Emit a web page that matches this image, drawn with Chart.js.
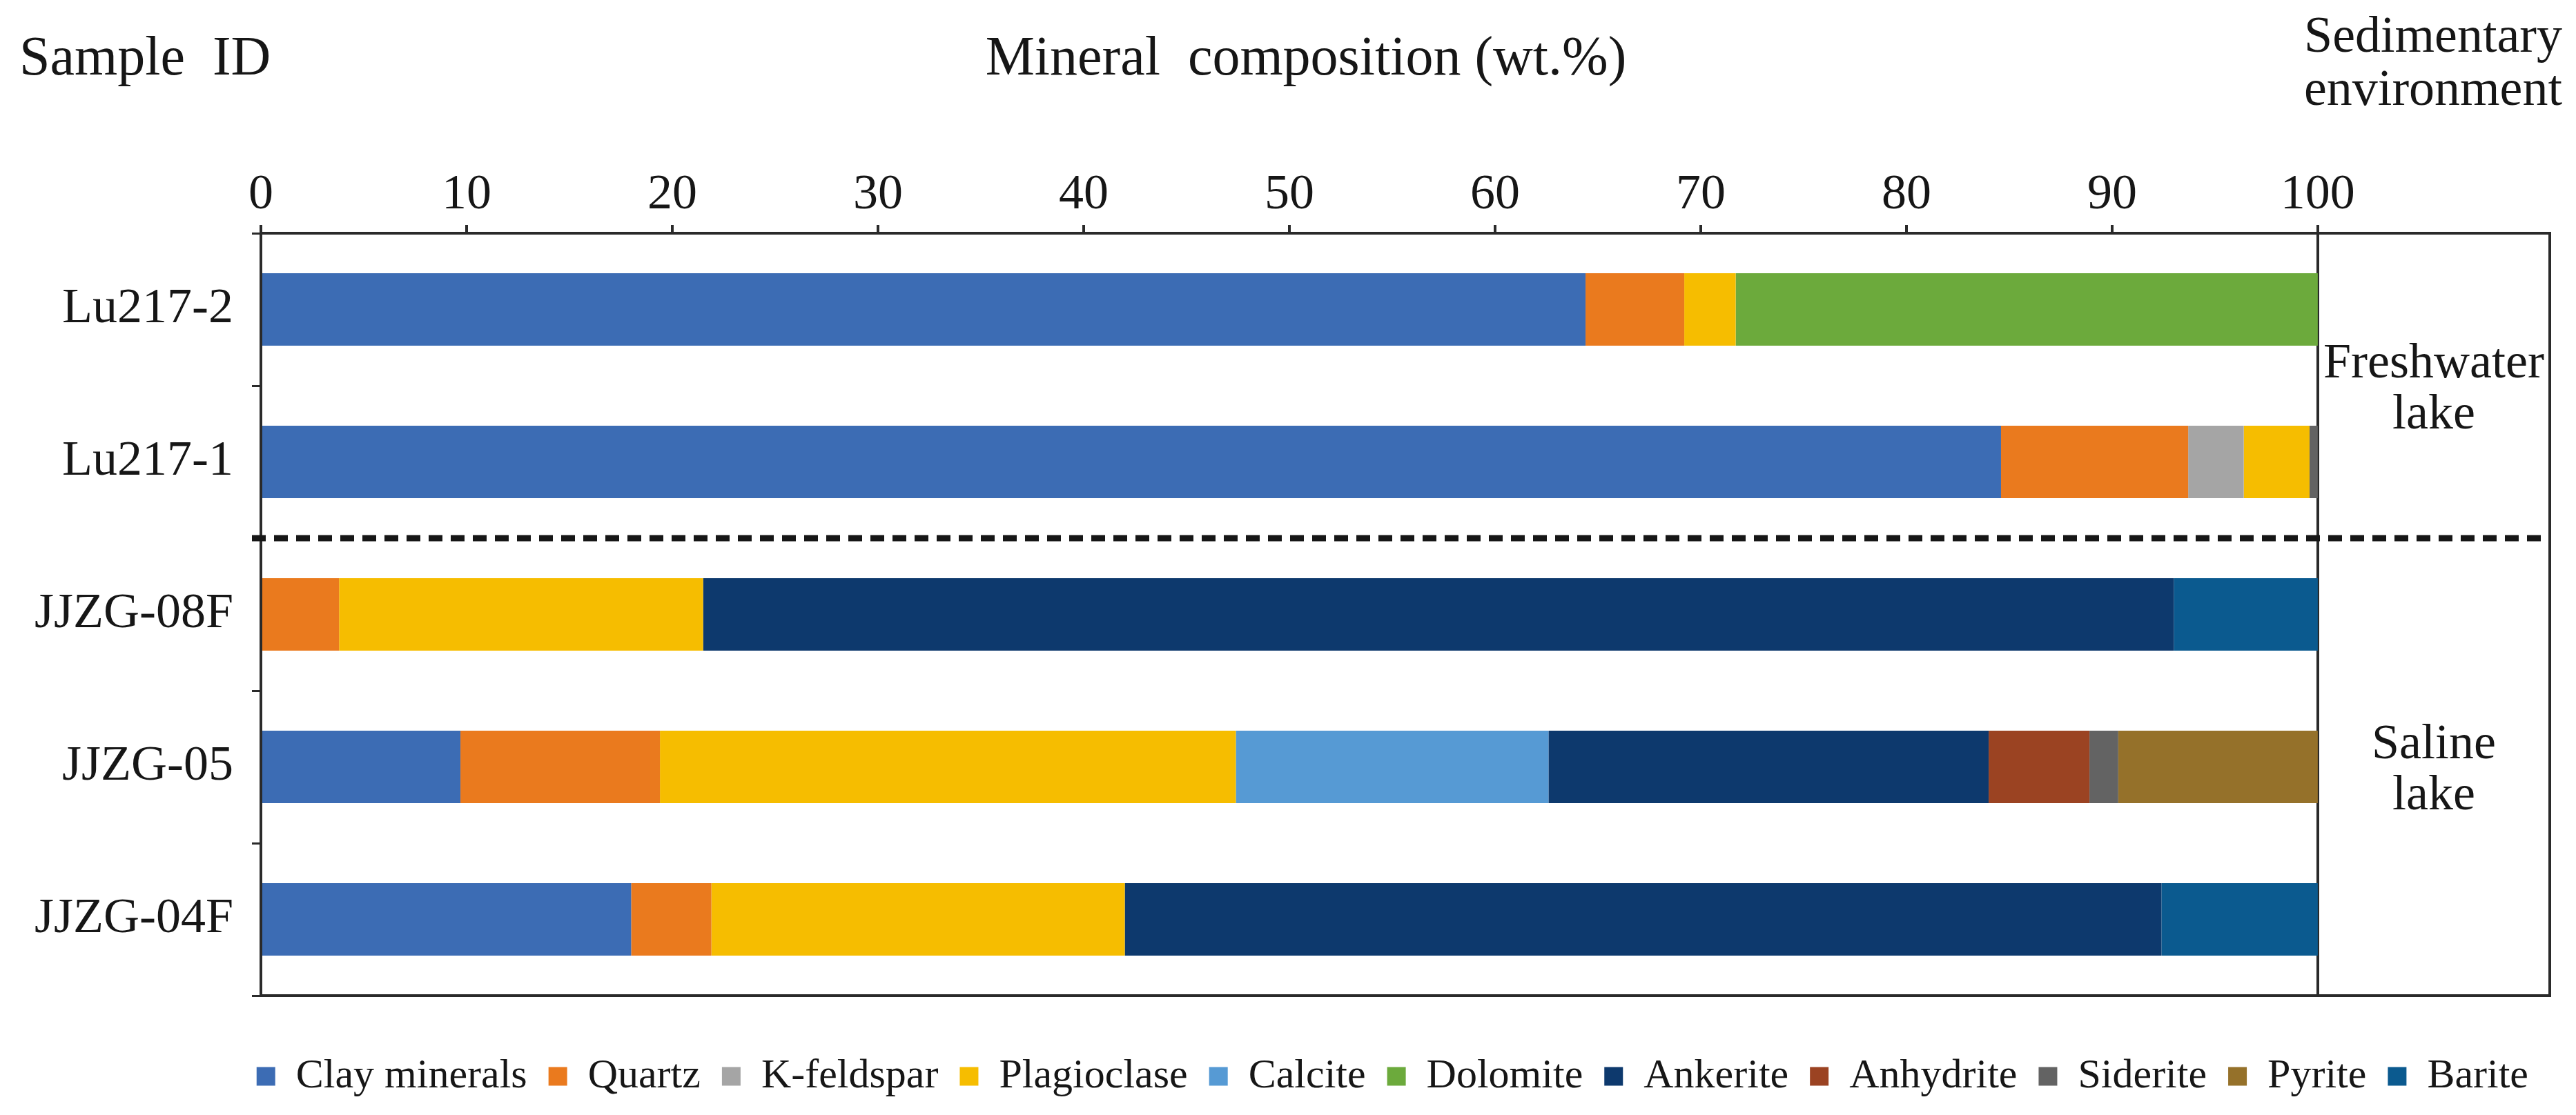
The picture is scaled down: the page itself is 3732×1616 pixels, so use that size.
<!DOCTYPE html>
<html>
<head>
<meta charset="utf-8">
<script src="https://cdn.jsdelivr.net/npm/chart.js@4/dist/chart.umd.min.js"></script>
<style>
  html, body { margin: 0; padding: 0; background: #fff; }
  #wrap { width: 3732px; height: 1616px; }
</style>
</head>
<body>
<div id="wrap"><canvas id="chart" width="3732" height="1616"></canvas></div>
<script>
    // samples, top to bottom
    const samples = ['Lu217-2', 'Lu217-1', 'JJZG-08F', 'JJZG-05', 'JJZG-04F'];

    // mineral content, wt.%
    const clay        = [64.4, 84.6, 0,    9.7,  18.0];
    const quartz      = [4.8,  9.1,  3.8,  9.7,  3.9];
    const kfeldspar   = [0,    2.7,  0,    0,    0];
    const plagioclase = [2.5,  3.2,  17.7, 28.0, 20.1];
    const calcite     = [0,    0,    0,    15.2, 0];
    const dolomite    = [28.3, 0,    0,    0,    0];
    const ankerite    = [0,    0,    71.5, 21.4, 50.4];
    const anhydrite   = [0,    0,    0,    4.9,  0];
    const siderite    = [0,    0.4,  0,    1.4,  0];
    const pyrite      = [0,    0,    0,    9.7,  0];
    const barite      = [0,    0,    7.0,  0,    7.6];

    const xTicks = [0, 10, 20, 30, 40, 50, 60, 70, 80, 90, 100];

    // sedimentary environment groups (index ranges of samples)
    const envLabels = [['Freshwater', 'lake'], ['Saline', 'lake']];
    const envFrom = [0, 2];
    const envTo = [1, 4];

    const serif = '"Liberation Serif", "DejaVu Serif", "Times New Roman", serif';
    const ink = '#161616';

    const series = [
        ['Clay minerals', clay, '#3c6cb4'],
        ['Quartz', quartz, '#ea7a1e'],
        ['K-feldspar', kfeldspar, '#a5a5a5'],
        ['Plagioclase', plagioclase, '#f6bd00'],
        ['Calcite', calcite, '#569ad4'],
        ['Dolomite', dolomite, '#6caa3c'],
        ['Ankerite', ankerite, '#0d396d'],
        ['Anhydrite', anhydrite, '#9b4322'],
        ['Siderite', siderite, '#636363'],
        ['Pyrite', pyrite, '#95712a'],
        ['Barite', barite, '#0b5a8f']
    ];

    const datasets = series.map(s => ({
        label: s[0],
        data: s[1],
        backgroundColor: s[2],
        borderWidth: 0,
        barPercentage: 0.475,
        categoryPercentage: 1
    }));

    // frame, dashed divider, environment column and headers
    const decor = {
        id: 'decor',
        afterDatasetsDraw(chart) {
            const ctx = chart.ctx;
            const a = chart.chartArea;
            const x = chart.scales.x, y = chart.scales.y;
            ctx.save();

            ctx.strokeStyle = '#2a2a2a';
            ctx.lineWidth = 4;
            ctx.strokeRect(a.left, a.top, a.right - a.left, a.bottom - a.top);

            // divider between the groups
            const yDiv = (y.getPixelForValue(envTo[0]) + y.getPixelForValue(envFrom[1])) / 2;
            ctx.strokeStyle = ink;
            ctx.lineWidth = 9;
            ctx.setLineDash([20, 12]);
            ctx.beginPath();
            ctx.moveTo(a.left - 13, yDiv);
            ctx.lineTo(a.right - 8, yDiv);
            ctx.stroke();
            ctx.setLineDash([]);

            // environment names
            const xEnv = (x.getPixelForValue(100) + a.right) / 2;
            const edges = [a.top, yDiv, a.bottom];
            ctx.fillStyle = ink;
            ctx.font = '72px ' + serif;
            ctx.textAlign = 'center';
            ctx.textBaseline = 'middle';
            envLabels.forEach((lines, i) => {
                const mid = (edges[i] + edges[i + 1]) / 2 + 6;
                lines.forEach((t, j) => {
                    ctx.fillText(t, xEnv, mid + (j - (lines.length - 1) / 2) * 74);
                });
            });

            // headers
            ctx.textBaseline = 'alphabetic';
            ctx.font = '80px ' + serif;
            ctx.textAlign = 'left';
            ctx.fillText('Sample  ID', 28, 108);
            ctx.textAlign = 'center';
            ctx.fillText('Mineral  composition (wt.%)', 1892, 108);
            ctx.font = '74px ' + serif;
            ctx.fillText('Sedimentary', 3525, 75);
            ctx.fillText('environment', 3525, 152);
            ctx.restore();
        }
    };

    function draw() {
        new Chart(document.getElementById('chart'), {
            type: 'bar',
            data: { labels: samples, datasets: datasets },
            plugins: [decor],
            options: {
                indexAxis: 'y',
                responsive: false,
                animation: false,
                layout: { padding: { top: 0, right: 38, bottom: 16, left: 0 } },
                plugins: {
                    legend: {
                        position: 'bottom',
                        align: 'end',
                        labels: {
                            font: { family: serif, size: 60 },
                            color: ink,
                            boxWidth: 27,
                            boxHeight: 27,
                            padding: 31
                        }
                    },
                    tooltip: { enabled: false }
                },
                scales: {
                    x: {
                        position: 'top',
                        stacked: true,
                        min: 0,
                        max: 111.28,
                        afterBuildTicks: s => { s.ticks = xTicks.map(v => ({ value: v })); },
                        afterFit: s => { s.height = 338; },
                        ticks: {
                            font: { family: serif, size: 72 },
                            color: ink,
                            padding: 0,
                            maxRotation: 0,
                            autoSkip: false
                        },
                        grid: {
                            color: c => (c.tick && c.tick.value === 100 ? '#2a2a2a' : 'rgba(0,0,0,0)'),
                            tickColor: '#2a2a2a',
                            tickLength: 12,
                            lineWidth: 4
                        },
                        border: { display: true, color: '#2a2a2a', width: 4 }
                    },
                    gap: {
                        type: 'linear',
                        position: 'bottom',
                        display: true,
                        ticks: { display: false },
                        grid: { display: false, drawTicks: false },
                        border: { display: false },
                        afterFit: s => { s.height = 56; }
                    },
                    y: {
                        stacked: true,
                        afterFit: s => { s.width = 378; },
                        ticks: {
                            font: { family: serif, size: 72 },
                            color: ink,
                            padding: 27
                        },
                        grid: {
                            offset: true,
                            drawOnChartArea: false,
                            tickLength: 13,
                            tickColor: '#2a2a2a',
                            lineWidth: 3
                        },
                        border: { display: true, color: '#2a2a2a', width: 4 }
                    }
                }
            }
        });
    }

    Promise.all([
        document.fonts.load('72px "Liberation Serif"'),
        document.fonts.load('72px "DejaVu Serif"')
    ]).then(draw, draw);
</script>
</body>
</html>
